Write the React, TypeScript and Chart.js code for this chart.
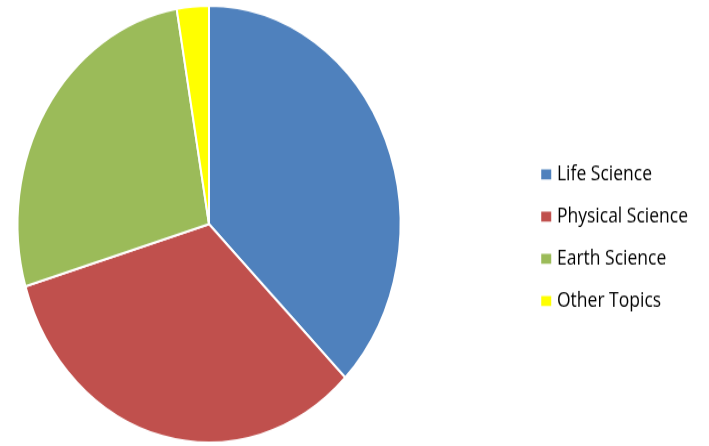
import { useEffect, useRef } from "react";
import { Chart, registerables } from "chart.js";
Chart.register(...registerables);

const categories = ["Life Science", "Physical Science", "Earth Science", "Other Topics"];
const values = [37.4, 33.0, 26.9, 2.7];
const colors = ["#4F81BD", "#C0504D", "#9BBB59", "#FFFF00"];

const W = 709;
const H = 446;
const BUF_H = 391;
const PIE_CENTER_X = 209;

// keep the pie on the left, independent of the legend width
const pieArea = {
  id: "pieArea",
  afterLayout(chart: any) {
    const a = chart.chartArea;
    const r = (a.bottom - a.top) / 2;
    a.left = PIE_CENTER_X - r;
    a.right = PIE_CENTER_X + r;
    a.width = 2 * r;
  },
};

export default function App() {
  const ref = useRef<HTMLCanvasElement>(null);
  useEffect(() => {
    const baseLabels = (Chart as any).overrides.doughnut.plugins.legend.labels.generateLabels;
    const chart = new Chart(ref.current!, {
      type: "pie",
      data: {
        labels: categories,
        datasets: [
          { data: values, backgroundColor: colors, borderColor: "#ffffff", borderWidth: 2 },
        ],
      },
      plugins: [pieArea],
      options: {
        responsive: false,
        animation: false,
        devicePixelRatio: 1,
        layout: { padding: { left: 0, right: 11, top: 4, bottom: 2 } },
        plugins: {
          legend: {
            position: "right",
            align: "center",
            title: { display: true, text: "", font: { size: 23.6, lineHeight: 1 } },
            labels: {
              boxWidth: 4,
              boxHeight: 2.8,
              padding: 19.5,
              color: "#000000",
              font: { family: "'Open Sans'", size: 17.5 },
              generateLabels: (c: any) =>
                baseLabels(c).map((l: any) => ({ ...l, strokeStyle: l.fillStyle, lineWidth: 6 })),
            },
          },
          tooltip: { enabled: false },
        },
      },
    });
    return () => chart.destroy();
  }, []);
  return (
    <canvas
      ref={ref}
      width={W}
      height={BUF_H}
      style={{ position: "fixed", left: 0, top: 0, width: W + "px", height: H + "px" }}
    />
  );
}
